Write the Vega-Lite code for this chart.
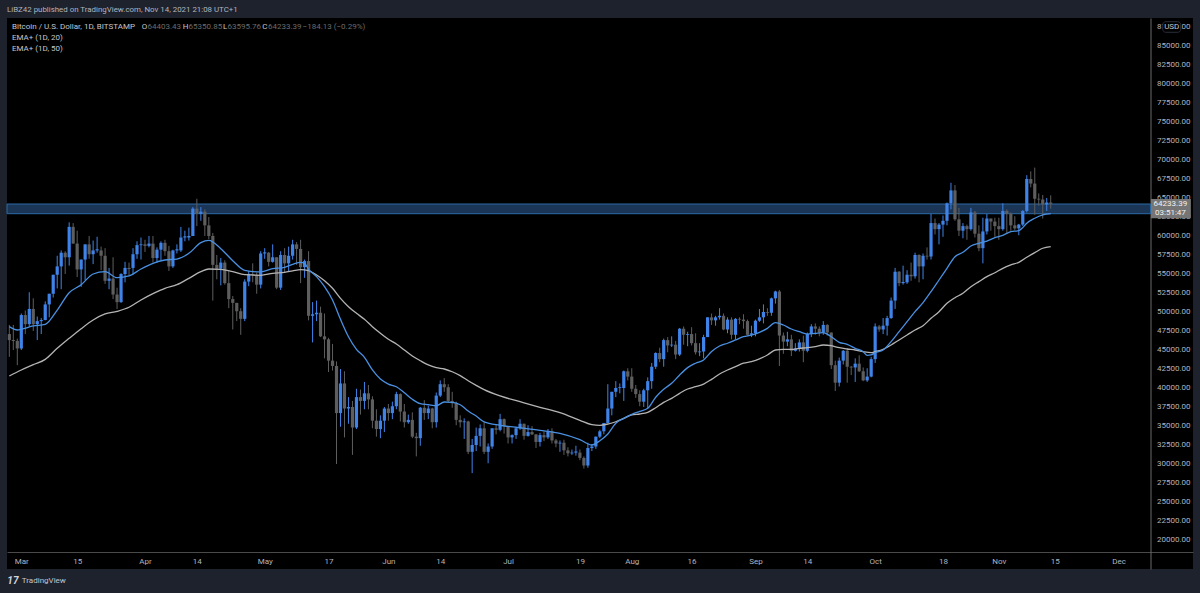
{"$schema":"https://vega.github.io/schema/vega-lite/v6.json","width":1186,"height":551,"autosize":{"type":"none"},"padding":{"left":7,"top":18,"right":7,"bottom":24},"background":"#1e222d","config":{"view":{"fill":"#000000","stroke":null},"font":"Roboto"},"title":{"text":"LiBZ42 published on TradingView.com, Nov 14, 2021 21:08 UTC+1","anchor":"start","frame":"group","offset":4,"fontSize":7.9,"fontWeight":"normal","color":"#b2b5be","font":"Roboto"},
"datasets":{
"candles":[
{"t":"2021-02-25","o":49700,"h":51400,"l":46900,"c":47100},
{"t":"2021-02-26","o":47100,"h":48300,"l":44100,"c":46300},
{"t":"2021-02-27","o":46300,"h":48300,"l":45000,"c":46200},
{"t":"2021-02-28","o":46200,"h":46500,"l":43000,"c":45200},
{"t":"2021-03-01","o":45200,"h":49800,"l":45000,"c":49600},
{"t":"2021-03-02","o":49600,"h":50200,"l":47100,"c":48400},
{"t":"2021-03-03","o":48400,"h":52600,"l":48100,"c":50400},
{"t":"2021-03-04","o":50400,"h":51800,"l":47500,"c":48400},
{"t":"2021-03-05","o":48400,"h":49400,"l":46300,"c":48800},
{"t":"2021-03-06","o":48800,"h":49200,"l":47100,"c":48950},
{"t":"2021-03-07","o":48950,"h":51400,"l":48900,"c":51000},
{"t":"2021-03-08","o":51000,"h":52400,"l":49300,"c":52400},
{"t":"2021-03-09","o":52400,"h":54900,"l":51900,"c":54900},
{"t":"2021-03-10","o":54900,"h":57400,"l":53100,"c":56000},
{"t":"2021-03-11","o":56000,"h":58100,"l":53000,"c":57800},
{"t":"2021-03-12","o":57800,"h":58000,"l":55000,"c":57200},
{"t":"2021-03-13","o":57200,"h":61800,"l":56100,"c":61200},
{"t":"2021-03-14","o":61200,"h":61700,"l":59000,"c":59000},
{"t":"2021-03-15","o":59000,"h":60700,"l":54600,"c":55600},
{"t":"2021-03-16","o":55600,"h":56900,"l":53300,"c":56900},
{"t":"2021-03-17","o":56900,"h":58900,"l":54200,"c":58900},
{"t":"2021-03-18","o":58900,"h":60000,"l":57000,"c":57600},
{"t":"2021-03-19","o":57600,"h":59400,"l":56300,"c":58100},
{"t":"2021-03-20","o":58100,"h":59900,"l":57800,"c":58250},
{"t":"2021-03-21","o":58100,"h":58600,"l":55500,"c":57400},
{"t":"2021-03-22","o":57400,"h":58400,"l":53700,"c":54100},
{"t":"2021-03-23","o":54100,"h":55800,"l":53000,"c":54400},
{"t":"2021-03-24","o":54400,"h":57200,"l":51700,"c":52300},
{"t":"2021-03-25","o":52300,"h":53200,"l":50400,"c":51300},
{"t":"2021-03-26","o":51300,"h":55100,"l":51200,"c":55000},
{"t":"2021-03-27","o":55000,"h":56600,"l":53900,"c":55800},
{"t":"2021-03-28","o":55800,"h":56500,"l":54800,"c":55650},
{"t":"2021-03-29","o":55800,"h":58400,"l":54900,"c":57600},
{"t":"2021-03-30","o":57600,"h":59300,"l":57000,"c":58800},
{"t":"2021-03-31","o":58800,"h":59800,"l":56900,"c":58900},
{"t":"2021-04-01","o":58900,"h":59500,"l":57900,"c":58700},
{"t":"2021-04-02","o":58700,"h":60000,"l":58500,"c":59000},
{"t":"2021-04-03","o":59000,"h":60000,"l":56500,"c":57100},
{"t":"2021-04-04","o":57100,"h":58500,"l":56500,"c":58200},
{"t":"2021-04-05","o":58200,"h":59300,"l":56800,"c":59100},
{"t":"2021-04-06","o":59100,"h":59500,"l":57400,"c":58000},
{"t":"2021-04-07","o":58000,"h":58700,"l":55400,"c":56000},
{"t":"2021-04-08","o":56000,"h":58200,"l":55800,"c":58100},
{"t":"2021-04-09","o":58100,"h":58900,"l":57700,"c":58250},
{"t":"2021-04-10","o":58100,"h":61200,"l":57900,"c":59800},
{"t":"2021-04-11","o":59800,"h":60700,"l":59300,"c":59950},
{"t":"2021-04-12","o":59800,"h":61100,"l":59400,"c":60000},
{"t":"2021-04-13","o":60000,"h":63800,"l":60000,"c":63600},
{"t":"2021-04-14","o":63600,"h":64900,"l":61300,"c":62900},
{"t":"2021-04-15","o":62900,"h":63800,"l":62000,"c":63200},
{"t":"2021-04-16","o":63200,"h":63500,"l":60000,"c":61400},
{"t":"2021-04-17","o":61400,"h":62500,"l":59600,"c":60000},
{"t":"2021-04-18","o":60000,"h":60400,"l":51500,"c":56200},
{"t":"2021-04-19","o":56200,"h":57500,"l":54300,"c":55700},
{"t":"2021-04-20","o":55700,"h":57100,"l":53500,"c":56500},
{"t":"2021-04-21","o":56500,"h":56800,"l":53600,"c":53800},
{"t":"2021-04-22","o":53800,"h":55400,"l":50500,"c":51700},
{"t":"2021-04-23","o":51700,"h":52100,"l":47700,"c":51200},
{"t":"2021-04-24","o":51200,"h":51200,"l":48800,"c":50100},
{"t":"2021-04-25","o":50100,"h":50500,"l":47000,"c":49100},
{"t":"2021-04-26","o":49100,"h":54300,"l":48800,"c":54000},
{"t":"2021-04-27","o":54000,"h":55400,"l":53400,"c":55000},
{"t":"2021-04-28","o":55000,"h":56400,"l":53900,"c":54900},
{"t":"2021-04-29","o":54900,"h":55200,"l":52400,"c":53600},
{"t":"2021-04-30","o":53600,"h":58000,"l":53100,"c":57700},
{"t":"2021-05-01","o":57700,"h":58400,"l":57000,"c":57850},
{"t":"2021-05-02","o":57800,"h":57900,"l":56000,"c":56600},
{"t":"2021-05-03","o":56600,"h":58900,"l":56500,"c":57200},
{"t":"2021-05-04","o":57200,"h":57200,"l":53000,"c":53200},
{"t":"2021-05-05","o":53200,"h":58000,"l":52900,"c":57500},
{"t":"2021-05-06","o":57500,"h":58400,"l":55200,"c":56400},
{"t":"2021-05-07","o":56400,"h":58600,"l":55300,"c":57400},
{"t":"2021-05-08","o":57400,"h":59500,"l":56900,"c":58900},
{"t":"2021-05-09","o":58900,"h":59200,"l":56200,"c":58300},
{"t":"2021-05-10","o":58300,"h":59500,"l":53800,"c":55900},
{"t":"2021-05-11","o":55900,"h":56900,"l":54500,"c":56700},
{"t":"2021-05-12","o":56700,"h":58000,"l":48900,"c":49500},
{"t":"2021-05-13","o":49500,"h":51300,"l":46000,"c":49700},
{"t":"2021-05-14","o":49700,"h":51500,"l":48800,"c":49900},
{"t":"2021-05-15","o":49900,"h":50700,"l":46700,"c":46800},
{"t":"2021-05-16","o":46800,"h":49800,"l":43900,"c":46400},
{"t":"2021-05-17","o":46400,"h":46600,"l":42100,"c":43600},
{"t":"2021-05-18","o":43600,"h":45800,"l":42300,"c":42900},
{"t":"2021-05-19","o":42900,"h":43500,"l":30000,"c":36700},
{"t":"2021-05-20","o":36700,"h":42500,"l":34900,"c":40600},
{"t":"2021-05-21","o":40600,"h":42200,"l":33500,"c":37300},
{"t":"2021-05-22","o":37300,"h":38800,"l":35300,"c":37500},
{"t":"2021-05-23","o":37500,"h":38300,"l":31200,"c":34800},
{"t":"2021-05-24","o":34800,"h":39900,"l":34600,"c":38800},
{"t":"2021-05-25","o":38800,"h":39800,"l":36500,"c":38300},
{"t":"2021-05-26","o":38300,"h":40800,"l":37200,"c":39300},
{"t":"2021-05-27","o":39300,"h":40400,"l":37200,"c":38500},
{"t":"2021-05-28","o":38500,"h":38900,"l":34700,"c":35700},
{"t":"2021-05-29","o":35700,"h":37200,"l":33600,"c":34600},
{"t":"2021-05-30","o":34600,"h":36400,"l":33400,"c":35700},
{"t":"2021-05-31","o":35700,"h":37500,"l":34200,"c":37300},
{"t":"2021-06-01","o":37300,"h":37900,"l":35700,"c":36700},
{"t":"2021-06-02","o":36700,"h":38200,"l":35900,"c":37600},
{"t":"2021-06-03","o":37600,"h":39500,"l":37200,"c":39200},
{"t":"2021-06-04","o":39200,"h":39300,"l":35600,"c":36900},
{"t":"2021-06-05","o":36900,"h":37900,"l":34800,"c":35500},
{"t":"2021-06-06","o":35500,"h":36500,"l":35300,"c":35800},
{"t":"2021-06-07","o":35800,"h":36800,"l":33400,"c":33600},
{"t":"2021-06-08","o":33600,"h":34100,"l":31000,"c":33400},
{"t":"2021-06-09","o":33400,"h":37500,"l":32400,"c":37400},
{"t":"2021-06-10","o":37400,"h":38400,"l":35800,"c":36700},
{"t":"2021-06-11","o":36700,"h":37700,"l":35900,"c":37300},
{"t":"2021-06-12","o":37300,"h":37400,"l":34700,"c":35500},
{"t":"2021-06-13","o":35500,"h":39400,"l":34800,"c":39000},
{"t":"2021-06-14","o":39000,"h":41000,"l":38800,"c":40500},
{"t":"2021-06-15","o":40500,"h":41300,"l":39500,"c":40100},
{"t":"2021-06-16","o":40100,"h":40500,"l":38100,"c":38300},
{"t":"2021-06-17","o":38300,"h":39500,"l":37400,"c":38000},
{"t":"2021-06-18","o":38000,"h":38200,"l":35100,"c":35800},
{"t":"2021-06-19","o":35800,"h":36400,"l":34800,"c":35500},
{"t":"2021-06-20","o":35500,"h":36000,"l":33300,"c":35600},
{"t":"2021-06-21","o":35600,"h":35700,"l":31300,"c":31600},
{"t":"2021-06-22","o":31600,"h":33300,"l":28800,"c":32500},
{"t":"2021-06-23","o":32500,"h":34800,"l":31700,"c":33700},
{"t":"2021-06-24","o":33700,"h":35200,"l":32300,"c":34700},
{"t":"2021-06-25","o":34700,"h":35500,"l":31300,"c":31600},
{"t":"2021-06-26","o":31600,"h":32700,"l":30100,"c":32300},
{"t":"2021-06-27","o":32300,"h":34700,"l":32000,"c":34700},
{"t":"2021-06-28","o":34700,"h":35200,"l":33900,"c":34500},
{"t":"2021-06-29","o":34500,"h":36600,"l":34300,"c":35900},
{"t":"2021-06-30","o":35900,"h":36000,"l":34000,"c":35000},
{"t":"2021-07-01","o":35000,"h":35000,"l":32700,"c":33500},
{"t":"2021-07-02","o":33500,"h":33900,"l":32700,"c":33800},
{"t":"2021-07-03","o":33800,"h":34900,"l":33300,"c":34700},
{"t":"2021-07-04","o":34700,"h":35900,"l":34500,"c":35300},
{"t":"2021-07-05","o":35300,"h":35300,"l":33200,"c":33700},
{"t":"2021-07-06","o":33700,"h":35100,"l":33600,"c":34200},
{"t":"2021-07-07","o":34200,"h":35000,"l":33800,"c":33900},
{"t":"2021-07-08","o":33900,"h":33900,"l":32100,"c":32900},
{"t":"2021-07-09","o":32900,"h":34100,"l":32300,"c":33800},
{"t":"2021-07-10","o":33800,"h":34300,"l":33000,"c":33500},
{"t":"2021-07-11","o":33500,"h":34600,"l":33300,"c":34300},
{"t":"2021-07-12","o":34300,"h":34700,"l":32700,"c":33100},
{"t":"2021-07-13","o":33100,"h":33300,"l":32200,"c":32700},
{"t":"2021-07-14","o":32700,"h":33100,"l":31600,"c":32800},
{"t":"2021-07-15","o":32800,"h":33200,"l":31200,"c":31800},
{"t":"2021-07-16","o":31800,"h":32200,"l":31000,"c":31400},
{"t":"2021-07-17","o":31400,"h":31900,"l":31200,"c":31500},
{"t":"2021-07-18","o":31500,"h":32400,"l":31100,"c":31650},
{"t":"2021-07-19","o":31500,"h":31900,"l":30500,"c":30800},
{"t":"2021-07-20","o":30800,"h":31000,"l":29400,"c":29800},
{"t":"2021-07-21","o":29800,"h":32800,"l":29500,"c":32100},
{"t":"2021-07-22","o":32100,"h":32600,"l":31700,"c":32300},
{"t":"2021-07-23","o":32300,"h":33600,"l":32000,"c":33600},
{"t":"2021-07-24","o":33600,"h":34500,"l":33400,"c":34300},
{"t":"2021-07-25","o":34300,"h":35400,"l":33900,"c":35400},
{"t":"2021-07-26","o":35400,"h":40500,"l":35300,"c":37300},
{"t":"2021-07-27","o":37300,"h":39500,"l":36400,"c":39500},
{"t":"2021-07-28","o":39500,"h":40900,"l":38800,"c":40000},
{"t":"2021-07-29","o":40000,"h":40600,"l":39300,"c":40100},
{"t":"2021-07-30","o":40000,"h":42300,"l":38300,"c":42200},
{"t":"2021-07-31","o":42200,"h":42600,"l":41000,"c":41500},
{"t":"2021-08-01","o":41500,"h":42600,"l":39500,"c":39900},
{"t":"2021-08-02","o":39900,"h":40400,"l":38700,"c":39200},
{"t":"2021-08-03","o":39200,"h":39700,"l":37600,"c":38200},
{"t":"2021-08-04","o":38200,"h":39900,"l":37500,"c":39700},
{"t":"2021-08-05","o":39700,"h":41400,"l":37300,"c":40900},
{"t":"2021-08-06","o":40900,"h":43300,"l":39900,"c":42800},
{"t":"2021-08-07","o":42800,"h":44700,"l":42500,"c":44600},
{"t":"2021-08-08","o":44600,"h":45300,"l":43400,"c":43800},
{"t":"2021-08-09","o":43800,"h":46500,"l":42800,"c":46300},
{"t":"2021-08-10","o":46300,"h":46700,"l":44700,"c":45600},
{"t":"2021-08-11","o":45600,"h":46800,"l":45400,"c":45700},
{"t":"2021-08-12","o":45700,"h":46200,"l":43800,"c":44400},
{"t":"2021-08-13","o":44400,"h":47900,"l":44200,"c":47800},
{"t":"2021-08-14","o":47800,"h":48100,"l":45700,"c":47000},
{"t":"2021-08-15","o":47000,"h":47400,"l":45500,"c":47100},
{"t":"2021-08-16","o":47100,"h":48000,"l":45600,"c":45900},
{"t":"2021-08-17","o":45900,"h":47200,"l":44400,"c":44700},
{"t":"2021-08-18","o":44700,"h":45900,"l":44200,"c":44800},
{"t":"2021-08-19","o":44800,"h":47000,"l":43900,"c":46700},
{"t":"2021-08-20","o":46700,"h":49300,"l":46700,"c":49300},
{"t":"2021-08-21","o":49300,"h":49800,"l":48300,"c":48900},
{"t":"2021-08-22","o":48900,"h":49500,"l":48200,"c":49300},
{"t":"2021-08-23","o":49300,"h":50500,"l":49000,"c":49500},
{"t":"2021-08-24","o":49500,"h":49800,"l":47600,"c":47700},
{"t":"2021-08-25","o":47700,"h":49300,"l":47200,"c":49000},
{"t":"2021-08-26","o":49000,"h":49300,"l":46400,"c":47000},
{"t":"2021-08-27","o":47000,"h":49200,"l":46400,"c":49100},
{"t":"2021-08-28","o":49100,"h":49300,"l":48400,"c":49000},
{"t":"2021-08-29","o":49000,"h":49700,"l":47800,"c":48800},
{"t":"2021-08-30","o":48800,"h":49000,"l":46900,"c":47000},
{"t":"2021-08-31","o":47000,"h":48200,"l":46700,"c":47200},
{"t":"2021-09-01","o":47200,"h":49000,"l":46800,"c":48850},
{"t":"2021-09-02","o":48850,"h":50400,"l":48700,"c":49300},
{"t":"2021-09-03","o":49300,"h":51000,"l":48500,"c":50000},
{"t":"2021-09-04","o":50000,"h":50500,"l":49500,"c":49900},
{"t":"2021-09-05","o":49900,"h":51900,"l":49500,"c":51800},
{"t":"2021-09-06","o":51800,"h":52800,"l":51100,"c":52700},
{"t":"2021-09-07","o":52700,"h":52900,"l":42900,"c":46900},
{"t":"2021-09-08","o":46900,"h":47300,"l":44500,"c":46100},
{"t":"2021-09-09","o":46100,"h":47400,"l":45500,"c":46400},
{"t":"2021-09-10","o":46400,"h":47000,"l":44200,"c":44900},
{"t":"2021-09-11","o":44900,"h":45900,"l":44800,"c":45200},
{"t":"2021-09-12","o":45200,"h":46400,"l":44800,"c":46000},
{"t":"2021-09-13","o":46000,"h":46900,"l":43400,"c":44900},
{"t":"2021-09-14","o":44900,"h":47300,"l":44700,"c":47100},
{"t":"2021-09-15","o":47100,"h":48400,"l":46700,"c":48100},
{"t":"2021-09-16","o":48100,"h":48500,"l":47000,"c":47800},
{"t":"2021-09-17","o":47800,"h":48100,"l":46800,"c":47300},
{"t":"2021-09-18","o":47300,"h":48800,"l":47000,"c":48300},
{"t":"2021-09-19","o":48300,"h":48400,"l":46900,"c":47300},
{"t":"2021-09-20","o":47300,"h":47300,"l":42500,"c":43000},
{"t":"2021-09-21","o":43000,"h":43600,"l":39600,"c":40700},
{"t":"2021-09-22","o":40700,"h":44000,"l":40200,"c":43600},
{"t":"2021-09-23","o":43600,"h":45000,"l":43100,"c":44900},
{"t":"2021-09-24","o":44900,"h":45200,"l":40700,"c":42800},
{"t":"2021-09-25","o":42800,"h":42900,"l":41700,"c":42700},
{"t":"2021-09-26","o":42700,"h":43900,"l":40800,"c":43200},
{"t":"2021-09-27","o":43200,"h":44300,"l":42100,"c":42200},
{"t":"2021-09-28","o":42200,"h":42700,"l":40900,"c":41000},
{"t":"2021-09-29","o":41000,"h":42600,"l":40800,"c":41500},
{"t":"2021-09-30","o":41500,"h":44100,"l":41400,"c":43800},
{"t":"2021-10-01","o":43800,"h":48500,"l":43300,"c":48100},
{"t":"2021-10-02","o":48100,"h":48300,"l":47400,"c":47700},
{"t":"2021-10-03","o":47700,"h":49200,"l":47100,"c":48200},
{"t":"2021-10-04","o":48200,"h":49500,"l":46900,"c":49200},
{"t":"2021-10-05","o":49200,"h":51900,"l":49100,"c":51500},
{"t":"2021-10-06","o":51500,"h":55800,"l":50400,"c":55300},
{"t":"2021-10-07","o":55300,"h":55400,"l":53400,"c":53800},
{"t":"2021-10-08","o":53800,"h":56100,"l":53600,"c":53950},
{"t":"2021-10-09","o":53900,"h":55500,"l":53700,"c":54900},
{"t":"2021-10-10","o":54900,"h":56500,"l":54100,"c":54700},
{"t":"2021-10-11","o":54700,"h":57800,"l":54400,"c":57500},
{"t":"2021-10-12","o":57500,"h":57600,"l":53900,"c":56000},
{"t":"2021-10-13","o":56000,"h":57700,"l":54300,"c":57400},
{"t":"2021-10-14","o":57400,"h":58500,"l":56900,"c":57300},
{"t":"2021-10-15","o":57300,"h":62900,"l":56900,"c":61700},
{"t":"2021-10-16","o":61700,"h":62300,"l":60200,"c":60900},
{"t":"2021-10-17","o":60900,"h":61700,"l":58900,"c":61500},
{"t":"2021-10-18","o":61500,"h":62700,"l":59900,"c":62000},
{"t":"2021-10-19","o":62000,"h":64400,"l":61400,"c":64300},
{"t":"2021-10-20","o":64300,"h":67000,"l":63500,"c":66000},
{"t":"2021-10-21","o":66000,"h":66700,"l":62000,"c":62200},
{"t":"2021-10-22","o":62200,"h":63700,"l":60000,"c":60700},
{"t":"2021-10-23","o":60700,"h":61700,"l":59700,"c":61300},
{"t":"2021-10-24","o":61300,"h":61500,"l":59500,"c":60900},
{"t":"2021-10-25","o":60900,"h":63700,"l":60700,"c":63100},
{"t":"2021-10-26","o":63100,"h":63300,"l":59800,"c":60300},
{"t":"2021-10-27","o":60300,"h":61400,"l":58000,"c":58400},
{"t":"2021-10-28","o":58400,"h":62400,"l":56400,"c":60600},
{"t":"2021-10-29","o":60600,"h":62900,"l":60200,"c":62300},
{"t":"2021-10-30","o":62300,"h":62300,"l":60700,"c":61900},
{"t":"2021-10-31","o":61900,"h":62400,"l":59900,"c":61300},
{"t":"2021-11-01","o":61300,"h":62400,"l":59500,"c":60900},
{"t":"2021-11-02","o":60900,"h":64300,"l":60700,"c":63300},
{"t":"2021-11-03","o":63300,"h":63500,"l":60400,"c":62900},
{"t":"2021-11-04","o":62900,"h":63100,"l":60700,"c":61400},
{"t":"2021-11-05","o":61400,"h":62600,"l":60800,"c":61000},
{"t":"2021-11-06","o":61000,"h":61600,"l":60100,"c":61500},
{"t":"2021-11-07","o":61500,"h":63400,"l":61300,"c":63300},
{"t":"2021-11-08","o":63300,"h":68000,"l":63100,"c":67500},
{"t":"2021-11-09","o":67500,"h":68500,"l":66400,"c":66900},
{"t":"2021-11-10","o":66900,"h":69000,"l":62800,"c":64900},
{"t":"2021-11-11","o":64900,"h":65600,"l":64000,"c":64800},
{"t":"2021-11-12","o":64800,"h":65400,"l":62300,"c":64150},
{"t":"2021-11-13","o":64150,"h":65000,"l":63300,"c":64400},
{"t":"2021-11-14","o":64403,"h":65351,"l":63596,"c":64233}
],
"ema20":[
{"t":"2021-02-26","v":48070},{"t":"2021-02-28","v":47630},{"t":"2021-03-01","v":47720},{"t":"2021-03-04","v":48160},{"t":"2021-03-07","v":48380},{"t":"2021-03-10","v":50260},{"t":"2021-03-13","v":52540},{"t":"2021-03-16","v":53590},{"t":"2021-03-19","v":55000},{"t":"2021-03-22","v":55300},{"t":"2021-03-25","v":54510},{"t":"2021-03-28","v":54740},{"t":"2021-03-31","v":55660},{"t":"2021-04-03","v":56410},{"t":"2021-04-06","v":56840},{"t":"2021-04-09","v":56970},{"t":"2021-04-12","v":57720},{"t":"2021-04-15","v":59120},{"t":"2021-04-17","v":59430},{"t":"2021-04-20","v":58330},{"t":"2021-04-23","v":56750},{"t":"2021-04-26","v":55490},{"t":"2021-04-30","v":55270},{"t":"2021-05-03","v":55700},{"t":"2021-05-06","v":55880},{"t":"2021-05-08","v":56270},{"t":"2021-05-10","v":56540},{"t":"2021-05-11","v":56400},{"t":"2021-05-12","v":55620},{"t":"2021-05-14","v":54650},{"t":"2021-05-16","v":53330},{"t":"2021-05-18","v":51580},{"t":"2021-05-20","v":49040},{"t":"2021-05-22","v":46750},{"t":"2021-05-24","v":45090},{"t":"2021-05-26","v":44030},{"t":"2021-05-28","v":42370},{"t":"2021-05-30","v":41180},{"t":"2021-06-01","v":40520},{"t":"2021-06-03","v":40170},{"t":"2021-06-05","v":39380},{"t":"2021-06-07","v":38510},{"t":"2021-06-09","v":37930},{"t":"2021-06-11","v":37800},{"t":"2021-06-13","v":37670},{"t":"2021-06-15","v":38160},{"t":"2021-06-17","v":38110},{"t":"2021-06-19","v":37800},{"t":"2021-06-21","v":36970},{"t":"2021-06-23","v":36310},{"t":"2021-06-25","v":35530},{"t":"2021-06-29","v":35090},{"t":"2021-07-04","v":34770},{"t":"2021-07-09","v":34430},{"t":"2021-07-14","v":34030},{"t":"2021-07-19","v":33200},{"t":"2021-07-22","v":32500},{"t":"2021-07-24","v":33070},{"t":"2021-07-26","v":33950},{"t":"2021-07-28","v":35360},{"t":"2021-07-30","v":36010},{"t":"2021-08-01","v":36540},{"t":"2021-08-03","v":36930},{"t":"2021-08-05","v":37330},{"t":"2021-08-07","v":38780},{"t":"2021-08-09","v":39830},{"t":"2021-08-11","v":40620},{"t":"2021-08-13","v":41710},{"t":"2021-08-15","v":42680},{"t":"2021-08-17","v":43260},{"t":"2021-08-19","v":43690},{"t":"2021-08-21","v":44790},{"t":"2021-08-23","v":45530},{"t":"2021-08-25","v":45890},{"t":"2021-08-27","v":46320},{"t":"2021-08-29","v":46750},{"t":"2021-08-31","v":46970},{"t":"2021-09-02","v":47330},{"t":"2021-09-04","v":47850},{"t":"2021-09-06","v":48590},{"t":"2021-09-08","v":48290},{"t":"2021-09-10","v":47760},{"t":"2021-09-12","v":47410},{"t":"2021-09-14","v":47100},{"t":"2021-09-16","v":47200},{"t":"2021-09-18","v":47280},{"t":"2021-09-20","v":46750},{"t":"2021-09-22","v":46010},{"t":"2021-09-24","v":45750},{"t":"2021-09-26","v":45220},{"t":"2021-09-28","v":44780},{"t":"2021-09-29","v":44300},{"t":"2021-09-30","v":44350},{"t":"2021-10-01","v":44650},{"t":"2021-10-03","v":45000},{"t":"2021-10-05","v":46100},{"t":"2021-10-07","v":47410},{"t":"2021-10-09","v":48730},{"t":"2021-10-11","v":50040},{"t":"2021-10-13","v":51230},{"t":"2021-10-15","v":52680},{"t":"2021-10-17","v":54210},{"t":"2021-10-19","v":55750},{"t":"2021-10-21","v":57280},{"t":"2021-10-23","v":57860},{"t":"2021-10-25","v":58680},{"t":"2021-10-27","v":59040},{"t":"2021-10-29","v":59340},{"t":"2021-10-31","v":59780},{"t":"2021-11-02","v":60090},{"t":"2021-11-04","v":60570},{"t":"2021-11-06","v":60700},{"t":"2021-11-07","v":61100},{"t":"2021-11-08","v":61670},{"t":"2021-11-10","v":62330},{"t":"2021-11-12","v":62770},{"t":"2021-11-14","v":62940}
],
"ema50":[
{"t":"2021-02-26","v":41580},{"t":"2021-03-01","v":42370},{"t":"2021-03-04","v":43070},{"t":"2021-03-07","v":43770},{"t":"2021-03-10","v":45220},{"t":"2021-03-13","v":46530},{"t":"2021-03-16","v":47800},{"t":"2021-03-19","v":48950},{"t":"2021-03-22","v":49740},{"t":"2021-03-25","v":50090},{"t":"2021-03-28","v":50620},{"t":"2021-03-31","v":51580},{"t":"2021-04-03","v":52410},{"t":"2021-04-06","v":53120},{"t":"2021-04-09","v":53590},{"t":"2021-04-12","v":54430},{"t":"2021-04-15","v":55300},{"t":"2021-04-17","v":55660},{"t":"2021-04-20","v":55620},{"t":"2021-04-23","v":55300},{"t":"2021-04-26","v":54910},{"t":"2021-04-30","v":54830},{"t":"2021-05-03","v":55090},{"t":"2021-05-06","v":55220},{"t":"2021-05-08","v":55400},{"t":"2021-05-10","v":55570},{"t":"2021-05-12","v":55440},{"t":"2021-05-14","v":54870},{"t":"2021-05-16","v":54120},{"t":"2021-05-18","v":53120},{"t":"2021-05-20","v":51800},{"t":"2021-05-22","v":50700},{"t":"2021-05-24","v":49830},{"t":"2021-05-26","v":49040},{"t":"2021-05-28","v":48070},{"t":"2021-05-30","v":47200},{"t":"2021-06-01","v":46410},{"t":"2021-06-03","v":45790},{"t":"2021-06-05","v":45000},{"t":"2021-06-07","v":44210},{"t":"2021-06-09","v":43590},{"t":"2021-06-11","v":43030},{"t":"2021-06-13","v":42670},{"t":"2021-06-15","v":42500},{"t":"2021-06-17","v":42140},{"t":"2021-06-19","v":41620},{"t":"2021-06-21","v":40960},{"t":"2021-06-23","v":40350},{"t":"2021-06-25","v":39780},{"t":"2021-06-29","v":38950},{"t":"2021-07-04","v":38200},{"t":"2021-07-09","v":37460},{"t":"2021-07-14","v":36750},{"t":"2021-07-19","v":35750},{"t":"2021-07-22","v":35170},{"t":"2021-07-24","v":35090},{"t":"2021-07-26","v":35260},{"t":"2021-07-28","v":35560},{"t":"2021-07-30","v":36010},{"t":"2021-08-01","v":36450},{"t":"2021-08-03","v":36580},{"t":"2021-08-05","v":36800},{"t":"2021-08-07","v":37410},{"t":"2021-08-09","v":38110},{"t":"2021-08-11","v":38640},{"t":"2021-08-13","v":39300},{"t":"2021-08-15","v":39870},{"t":"2021-08-17","v":40170},{"t":"2021-08-19","v":40520},{"t":"2021-08-21","v":41140},{"t":"2021-08-23","v":41840},{"t":"2021-08-25","v":42370},{"t":"2021-08-27","v":42810},{"t":"2021-08-29","v":43260},{"t":"2021-08-31","v":43470},{"t":"2021-09-02","v":43820},{"t":"2021-09-04","v":44340},{"t":"2021-09-06","v":45000},{"t":"2021-09-08","v":45090},{"t":"2021-09-10","v":45090},{"t":"2021-09-12","v":45220},{"t":"2021-09-14","v":45300},{"t":"2021-09-16","v":45430},{"t":"2021-09-18","v":45660},{"t":"2021-09-20","v":45570},{"t":"2021-09-22","v":45300},{"t":"2021-09-24","v":45130},{"t":"2021-09-26","v":45000},{"t":"2021-09-28","v":44780},{"t":"2021-09-30","v":44650},{"t":"2021-10-01","v":44780},{"t":"2021-10-03","v":45090},{"t":"2021-10-05","v":45660},{"t":"2021-10-07","v":46320},{"t":"2021-10-09","v":46970},{"t":"2021-10-11","v":47630},{"t":"2021-10-13","v":48200},{"t":"2021-10-15","v":49170},{"t":"2021-10-17","v":50040},{"t":"2021-10-19","v":51140},{"t":"2021-10-21","v":51880},{"t":"2021-10-23","v":52460},{"t":"2021-10-25","v":53330},{"t":"2021-10-27","v":53990},{"t":"2021-10-29","v":54650},{"t":"2021-10-31","v":55170},{"t":"2021-11-02","v":55750},{"t":"2021-11-04","v":56190},{"t":"2021-11-06","v":56540},{"t":"2021-11-08","v":57200},{"t":"2021-11-10","v":57810},{"t":"2021-11-12","v":58390},{"t":"2021-11-14","v":58600}
],
"notes":[
{"t":"2021-02-26T16:00:00Z","p":87500,"txt":"Bitcoin / U.S. Dollar, 1D, BITSTAMP","kind":"strong"},
{"t":"2021-03-31T04:00:00Z","p":87500,"txt":"O","kind":"strong"},
{"t":"2021-04-01T15:00:00Z","p":87500,"txt":"64403.43","kind":"dim"},
{"t":"2021-04-10T11:00:00Z","p":87500,"txt":"H","kind":"strong"},
{"t":"2021-04-11T22:00:00Z","p":87500,"txt":"65350.85","kind":"dim"},
{"t":"2021-04-20T13:00:00Z","p":87500,"txt":"L","kind":"strong"},
{"t":"2021-04-21T16:00:00Z","p":87500,"txt":"63595.76","kind":"dim"},
{"t":"2021-04-30T10:00:00Z","p":87500,"txt":"C","kind":"strong"},
{"t":"2021-05-01T20:00:00Z","p":87500,"txt":"64233.39","kind":"dim"},
{"t":"2021-05-10T12:00:00Z","p":87500,"txt":"−184.13 (−0.29%)","kind":"dim"},
{"t":"2021-02-26T16:00:00Z","p":85987,"txt":"EMA+ (1D, 20)","kind":"strong"},
{"t":"2021-02-26T16:00:00Z","p":84540,"txt":"EMA+ (1D, 50)","kind":"strong"},
{"t":"2021-03-01T03:00:00Z","p":14540,"txt":"TradingView","kind":"strong"}
],
"zone":[{"t":"2021-02-25T10:00:00Z","t2":"2021-12-09T00:00:00Z","p":64210,"p2":62935}],
"priceBox":[{"t":"2021-12-09T03:00:00Z","t2":"2021-12-19T03:00:00Z","p":64868,"p2":62330}],
"priceText":[{"t":"2021-12-14T00:00:00Z","p":64233,"txt":"64233.39"},{"t":"2021-12-14T00:00:00Z","p":63070,"txt":"03:51:47"}],
"usdBox":[{"t":"2021-12-12T02:00:00Z","t2":"2021-12-16T14:00:00Z","p":88197,"p2":86803}],
"usdText":[{"t":"2021-12-14T08:00:00Z","p":87500,"txt":"USD"}],
"logo":[{"t":"2021-02-25T12:00:00Z","p":14540,"txt":"17"}]
},
"encoding":{"x":{"field":"t","type":"temporal","title":null,"scale":{"type":"utc","padding":0,"nice":false,"domain":[{"year":2021,"month":2,"date":25,"hours":10,"utc":true},{"year":2021,"month":12,"date":19,"hours":15,"minutes":50,"utc":true}]},"axis":{"orient":"bottom","offset":-17,"grid":false,"ticks":false,"domainColor":"#4a4a4a","domainWidth":1,"labelColor":"#b2b5be","labelFontSize":8,"labelFont":"Roboto","labelPadding":5,"labelOverlap":false,"labelFlush":false,"labelAngle":0,"labelExpr":"utcdate(datum.value)==1?utcFormat(datum.value,'%b'):utcFormat(datum.value,'%-d')","values":[{"year":2021,"month":3,"date":1,"utc":true},{"year":2021,"month":3,"date":15,"utc":true},{"year":2021,"month":4,"date":1,"utc":true},{"year":2021,"month":4,"date":14,"utc":true},{"year":2021,"month":5,"date":1,"utc":true},{"year":2021,"month":5,"date":17,"utc":true},{"year":2021,"month":6,"date":1,"utc":true},{"year":2021,"month":6,"date":14,"utc":true},{"year":2021,"month":7,"date":1,"utc":true},{"year":2021,"month":7,"date":19,"utc":true},{"year":2021,"month":8,"date":1,"utc":true},{"year":2021,"month":8,"date":16,"utc":true},{"year":2021,"month":9,"date":1,"utc":true},{"year":2021,"month":9,"date":14,"utc":true},{"year":2021,"month":10,"date":1,"utc":true},{"year":2021,"month":10,"date":18,"utc":true},{"year":2021,"month":11,"date":1,"utc":true},{"year":2021,"month":11,"date":15,"utc":true},{"year":2021,"month":12,"date":1,"utc":true}]}},
"y":{"field":"p","type":"quantitative","title":null,"scale":{"domain":[16184,88684],"nice":false,"zero":false,"padding":0},"axis":{"orient":"right","offset":-42.5,"grid":false,"ticks":false,"domainColor":"#6a6a6a","domainWidth":1,"labelColor":"#b2b5be","labelFontSize":8,"labelFont":"Roboto","labelPadding":6,"labelOverlap":false,"format":".2f","values":[20000,22500,25000,27500,30000,32500,35000,37500,40000,42500,45000,47500,50000,52500,55000,57500,60000,62500,65000,67500,70000,72500,75000,77500,80000,82500,85000,87500]}}},
"layer":[
{"data":{"name":"zone"},"mark":{"type":"rect","fill":"#1b3557","stroke":"#2a6ba6","strokeWidth":1},"encoding":{"x2":{"field":"t2"},"y2":{"field":"p2"}}},
{"data":{"name":"candles"},"mark":{"type":"rule","strokeWidth":1,"clip":true},"encoding":{"y":{"field":"l","type":"quantitative","title":null,"scale":{"domain":[16184,88684],"nice":false,"zero":false,"padding":0},"axis":{"orient":"right","offset":-42.5,"grid":false,"ticks":false,"domainColor":"#6a6a6a","domainWidth":1,"labelColor":"#b2b5be","labelFontSize":8,"labelFont":"Roboto","labelPadding":6,"labelOverlap":false,"format":".2f","values":[20000,22500,25000,27500,30000,32500,35000,37500,40000,42500,45000,47500,50000,52500,55000,57500,60000,62500,65000,67500,70000,72500,75000,77500,80000,82500,85000,87500]}},"y2":{"field":"h"},"color":{"condition":{"test":"datum.c>=datum.o","value":"#3f83e8"},"value":"#5e5e5e"}}},
{"data":{"name":"candles"},"mark":{"type":"bar","size":3.2,"clip":true},"encoding":{"y":{"field":"o","type":"quantitative","title":null,"scale":{"domain":[16184,88684],"nice":false,"zero":false,"padding":0},"axis":{"orient":"right","offset":-42.5,"grid":false,"ticks":false,"domainColor":"#6a6a6a","domainWidth":1,"labelColor":"#b2b5be","labelFontSize":8,"labelFont":"Roboto","labelPadding":6,"labelOverlap":false,"format":".2f","values":[20000,22500,25000,27500,30000,32500,35000,37500,40000,42500,45000,47500,50000,52500,55000,57500,60000,62500,65000,67500,70000,72500,75000,77500,80000,82500,85000,87500]}},"y2":{"field":"c"},"color":{"condition":{"test":"datum.c>=datum.o","value":"#3f83e8"},"value":"#5e5e5e"}}},
{"data":{"name":"ema50"},"mark":{"type":"line","color":"#b4b4b4","strokeWidth":1.3,"interpolate":"monotone","clip":true},"encoding":{"y":{"field":"v","type":"quantitative","title":null,"scale":{"domain":[16184,88684],"nice":false,"zero":false,"padding":0},"axis":{"orient":"right","offset":-42.5,"grid":false,"ticks":false,"domainColor":"#6a6a6a","domainWidth":1,"labelColor":"#b2b5be","labelFontSize":8,"labelFont":"Roboto","labelPadding":6,"labelOverlap":false,"format":".2f","values":[20000,22500,25000,27500,30000,32500,35000,37500,40000,42500,45000,47500,50000,52500,55000,57500,60000,62500,65000,67500,70000,72500,75000,77500,80000,82500,85000,87500]}}}},
{"data":{"name":"ema20"},"mark":{"type":"line","color":"#4a90e2","strokeWidth":1.3,"interpolate":"monotone","clip":true},"encoding":{"y":{"field":"v","type":"quantitative","title":null,"scale":{"domain":[16184,88684],"nice":false,"zero":false,"padding":0},"axis":{"orient":"right","offset":-42.5,"grid":false,"ticks":false,"domainColor":"#6a6a6a","domainWidth":1,"labelColor":"#b2b5be","labelFontSize":8,"labelFont":"Roboto","labelPadding":6,"labelOverlap":false,"format":".2f","values":[20000,22500,25000,27500,30000,32500,35000,37500,40000,42500,45000,47500,50000,52500,55000,57500,60000,62500,65000,67500,70000,72500,75000,77500,80000,82500,85000,87500]}}}},
{"data":{"name":"notes"},"mark":{"type":"text","align":"left","baseline":"middle","fontSize":8,"font":"Roboto"},"encoding":{"text":{"field":"txt"},"color":{"field":"kind","type":"nominal","legend":null,"scale":{"domain":["strong","dim"],"range":["#c4c6cc","#6b6b6b"]}}}},
{"data":{"name":"logo"},"mark":{"type":"text","align":"left","baseline":"middle","fontSize":10,"fontWeight":"bold","fontStyle":"italic","font":"Roboto","color":"#d1d4dc"},"encoding":{"text":{"field":"txt"}}},
{"data":{"name":"priceBox"},"mark":{"type":"rect","fill":"#757575"},"encoding":{"x2":{"field":"t2"},"y2":{"field":"p2"}}},
{"data":{"name":"priceText"},"mark":{"type":"text","align":"center","baseline":"middle","fontSize":8,"font":"Roboto","color":"#f0f0f0"},"encoding":{"text":{"field":"txt"}}},
{"data":{"name":"usdBox"},"mark":{"type":"rect","fill":"#000000","stroke":"#2a2e39","strokeWidth":1,"cornerRadius":3},"encoding":{"x2":{"field":"t2"},"y2":{"field":"p2"}}},
{"data":{"name":"usdText"},"mark":{"type":"text","align":"center","baseline":"middle","fontSize":8,"font":"Roboto","color":"#c4c6cc"},"encoding":{"text":{"field":"txt"}}}
]}
